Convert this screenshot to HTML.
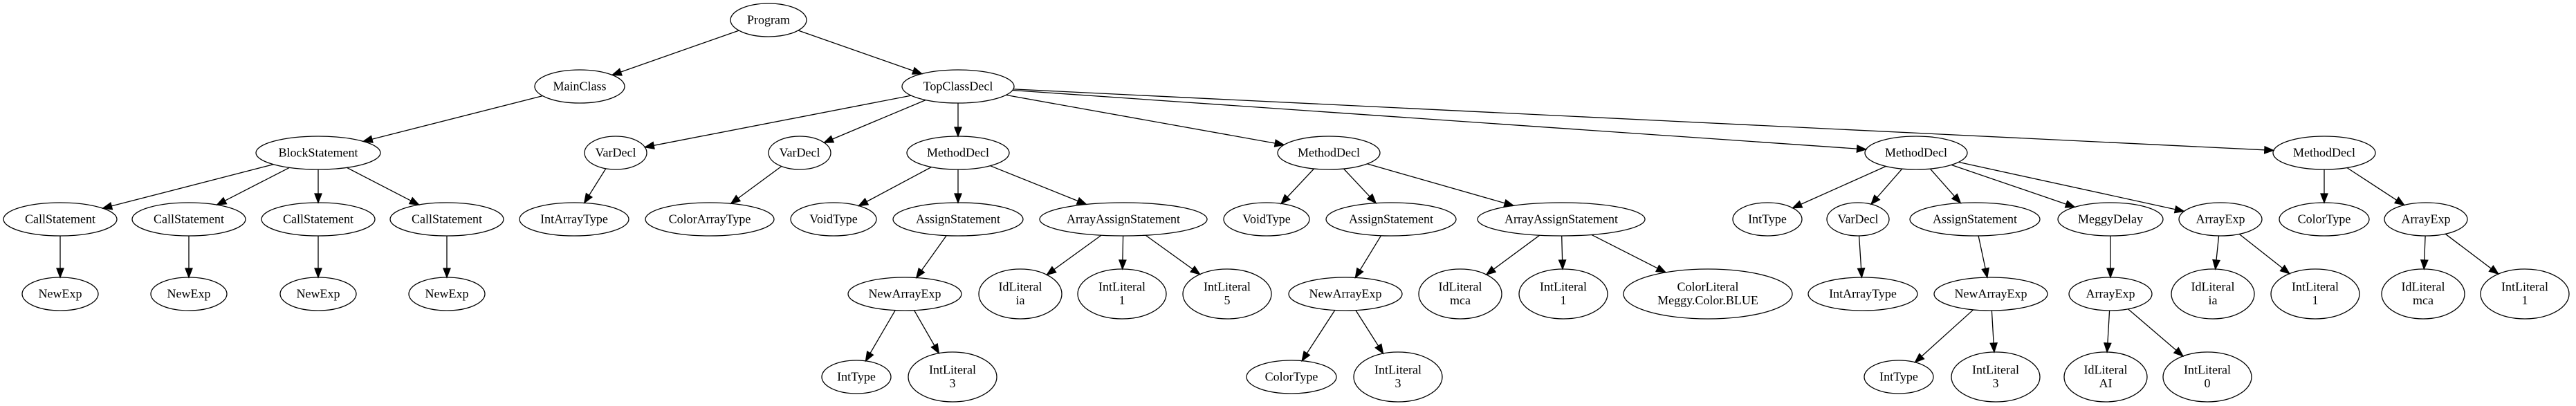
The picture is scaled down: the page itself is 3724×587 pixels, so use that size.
<!DOCTYPE html>
<html><head><meta charset="utf-8"><style>
html,body{margin:0;padding:0;background:#fff;}
svg{display:block;}
text{font-family:"Liberation Serif",serif;font-size:18px;fill:#000;text-anchor:middle;}
</style></head><body>
<svg id="s" width="3724" height="587" viewBox="0 0 3724 587" xmlns="http://www.w3.org/2000/svg"></svg>
<script>
const R0=29,R1=125,R2=221,R3=317,R4=425,R5=545;
// id: [x,y,rx,ry,label]
const N={
P:[1111,R0,55,24,"Program"],
MC:[838,R1,65,24,"MainClass"],
TC:[1385,R1,81,24,"TopClassDecl"],
BS:[460,R2,90,24,"BlockStatement"],
CS1:[87,R3,82,24,"CallStatement"],CS2:[273,R3,82,24,"CallStatement"],CS3:[460,R3,82,24,"CallStatement"],CS4:[646,R3,82,24,"CallStatement"],
NE1:[87,R4,55,24,"NewExp"],NE2:[273,R4,55,24,"NewExp"],NE3:[460,R4,55,24,"NewExp"],NE4:[646,R4,55,24,"NewExp"],
VD1:[890,R2,45,24,"VarDecl"],IAT1:[830,R3,79,24,"IntArrayType"],
VD2:[1156,R2,45,24,"VarDecl"],CAT:[1026,R3,93,24,"ColorArrayType"],
MD1:[1385,R2,74,24,"MethodDecl"],VT1:[1205,R3,62,24,"VoidType"],AS1:[1385,R3,94,24,"AssignStatement"],AAS1:[1624,R3,121,24,"ArrayAssignStatement"],
NAE1:[1308,R4,82,24,"NewArrayExp"],IT1:[1238,R5,50,24,"IntType"],IL3a:[1377,R5,64,36,"IntLiteral|3"],
IDia:[1475,R4,60,36,"IdLiteral|ia"],IL1a:[1622,R4,64,36,"IntLiteral|1"],IL5:[1774,R4,64,36,"IntLiteral|5"],
MD2:[1921,R2,74,24,"MethodDecl"],VT2:[1831,R3,62,24,"VoidType"],AS2:[2011,R3,94,24,"AssignStatement"],AAS2:[2257,R3,121,24,"ArrayAssignStatement"],
NAE2:[1945,R4,82,24,"NewArrayExp"],CT1:[1867,R5,65,24,"ColorType"],IL3b:[2021,R5,64,36,"IntLiteral|3"],
IDmca:[2111,R4,60,36,"IdLiteral|mca"],IL1b:[2260,R4,64,36,"IntLiteral|1"],CL:[2469,R4,122,36,"ColorLiteral|Meggy.Color.BLUE"],
MD3:[2770,R2,74,24,"MethodDecl"],IT2:[2555,R3,50,24,"IntType"],VD3:[2686,R3,45,24,"VarDecl"],AS3:[2855,R3,94,24,"AssignStatement"],MDL:[3051,R3,76,24,"MeggyDelay"],AE1:[3210,R3,60,24,"ArrayExp"],
IAT2:[2693,R4,79,24,"IntArrayType"],NAE3:[2878,R4,82,24,"NewArrayExp"],AE3:[3051,R4,60,24,"ArrayExp"],
IT3:[2745,R5,50,24,"IntType"],IL3c:[2885,R5,64,36,"IntLiteral|3"],IDAI:[3044,R5,60,36,"IdLiteral|AI"],IL0:[3191,R5,64,36,"IntLiteral|0"],
IDia2:[3199,R4,60,36,"IdLiteral|ia"],IL1c:[3347,R4,64,36,"IntLiteral|1"],
MD4:[3360,R2,74,24,"MethodDecl"],CT2:[3360,R3,65,24,"ColorType"],AE2:[3507,R3,60,24,"ArrayExp"],
IDmca2:[3503,R4,60,36,"IdLiteral|mca"],IL1d:[3650,R4,64,36,"IntLiteral|1"]
};
const E=[["P","MC"],["P","TC"],["MC","BS"],["BS","CS1"],["BS","CS2"],["BS","CS3"],["BS","CS4"],
["CS1","NE1"],["CS2","NE2"],["CS3","NE3"],["CS4","NE4"],
["TC","VD1"],["TC","VD2"],["TC","MD1"],["TC","MD2"],["TC","MD3"],["TC","MD4"],
["VD1","IAT1"],["VD2","CAT"],["MD1","VT1"],["MD1","AS1"],["MD1","AAS1"],["AS1","NAE1"],["NAE1","IT1"],["NAE1","IL3a"],
["AAS1","IDia"],["AAS1","IL1a"],["AAS1","IL5"],
["MD2","VT2"],["MD2","AS2"],["MD2","AAS2"],["AS2","NAE2"],["NAE2","CT1"],["NAE2","IL3b"],["AAS2","IDmca"],["AAS2","IL1b"],["AAS2","CL"],
["MD3","IT2"],["MD3","VD3"],["MD3","AS3"],["MD3","MDL"],["MD3","AE1"],["VD3","IAT2"],["AS3","NAE3"],["NAE3","IT3"],["NAE3","IL3c"],
["MDL","AE3"],["AE3","IDAI"],["AE3","IL0"],["AE1","IDia2"],["AE1","IL1c"],
["MD4","CT2"],["MD4","AE2"],["AE2","IDmca2"],["AE2","IL1d"]];
function clip(n,dx,dy){const[x,y,rx,ry]=n;const t=1/Math.sqrt((dx*dx)/(rx*rx)+(dy*dy)/(ry*ry));return[x+dx*t,y+dy*t];}
let h="";
for(const[a,b]of E){const A=N[a],B=N[b];const dx=B[0]-A[0],dy=B[1]-A[1];
const p=clip(A,dx,dy),q=clip(B,-dx,-dy);const L=Math.hypot(q[0]-p[0],q[1]-p[1]);const ux=(q[0]-p[0])/L,uy=(q[1]-p[1])/L;
const al=13,aw=5;const bx=q[0]-ux*al,by=q[1]-uy*al;
h+=`<line x1="${p[0].toFixed(1)}" y1="${p[1].toFixed(1)}" x2="${bx.toFixed(1)}" y2="${by.toFixed(1)}" stroke="#000" stroke-width="1.3"/>`;
h+=`<polygon points="${q[0].toFixed(1)},${q[1].toFixed(1)} ${(bx-uy*aw).toFixed(1)},${(by+ux*aw).toFixed(1)} ${(bx+uy*aw).toFixed(1)},${(by-ux*aw).toFixed(1)}" fill="#000" stroke="#000" stroke-width="1.3"/>`;}
for(const k in N){const[x,y,rx,ry,l]=N[k];
h+=`<ellipse cx="${x}" cy="${y}" rx="${rx}" ry="${ry}" fill="none" stroke="#000" stroke-width="1.3"/>`;
const ls=l.split("|");
if(ls.length==1)h+=`<text x="${x}" y="${y+5.5}">${ls[0]}</text>`;
else h+=`<text x="${x}" y="${y-4.5}">${ls[0]}</text><text x="${x}" y="${y+15}">${ls[1]}</text>`;}
document.getElementById("s").innerHTML=h;
</script>
</body></html>
